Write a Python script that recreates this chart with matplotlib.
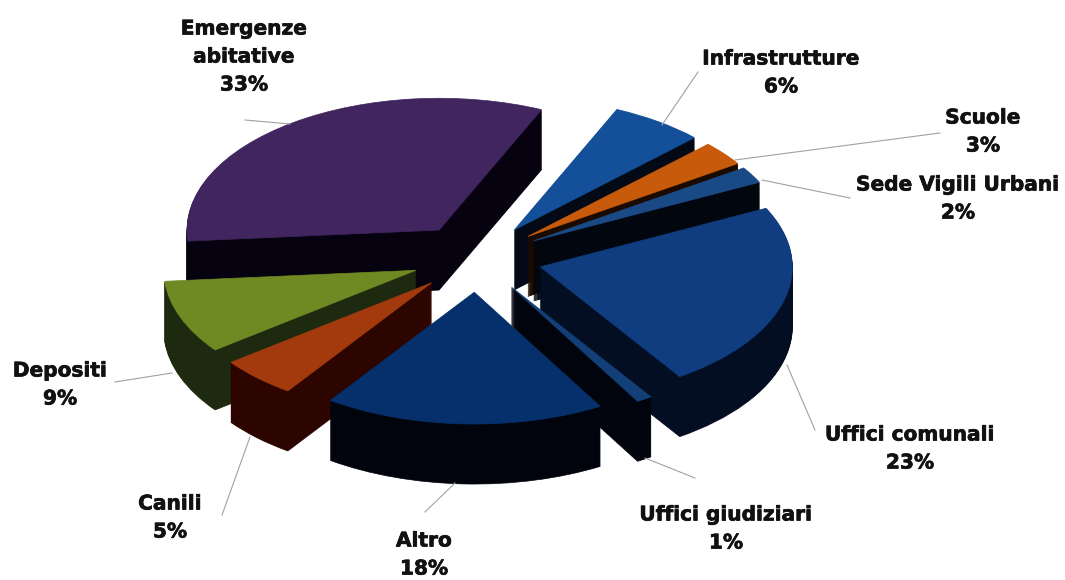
import numpy as np
import matplotlib
matplotlib.use('Agg')
import matplotlib.pyplot as plt
import matplotlib.patheffects as pe
from matplotlib.lines import Line2D

labels = ['Infrastrutture', 'Scuole', 'Sede Vigili Urbani', 'Uffici comunali', 'Uffici giudiziari',
          'Altro', 'Canili', 'Depositi', 'Emergenze\nabitative']
values = [6, 3, 2, 23, 1, 18, 5, 9, 33]
top_colors = ['#14509a', '#c85a0c', '#1a4a86', '#0f3d80', '#123f78', '#06306b', '#a33a0e', '#6f8a22', '#40255f']
side_colors = ['#030a16', '#1a0a02', '#02060f', '#030e22', '#01040c', '#01040c', '#2c0400', '#1d2a10', '#070210']

W, H = 1065, 580
cx, cy = 477, 258
rx = 252
squash = 0.523
depth = 60

# label text (x, y centre in pixels) and leader lines
label_pos = [(781, 73), (983, 132), (958, 199), (910, 449), (726, 529), (424, 555), (170, 518), (60, 385), (244, 57)]
leaders = [[(698, 72), (662, 125)], [(940, 133), (735, 160)], [(850, 198), (762, 180)],
           [(815, 430), (787, 365)], [(695, 478), (645, 458)], [(425, 512), (455, 483)],
           [(222, 515), (250, 437)], [(115, 382), (172, 373)], [(245, 120), (290, 124)]]

fig = plt.figure(figsize=(W / 100, H / 100), dpi=100)
ax = fig.add_axes([0, 0, 1, 1])

mids = []
a = 66
for v in values:
    mids.append(a - v * 3.6 / 2)
    a -= v * 3.6
order = np.argsort(np.argsort(-np.sin(np.radians(mids))))

for layer in range(depth + 1):
    off = (depth - layer) / (rx * squash)
    cols = top_colors if layer == depth else side_colors
    wedges, _ = ax.pie(values, startangle=66, counterclock=False, explode=[0.26] * len(values),
                       radius=1, center=(0, -off), colors=cols)
    for i, w in enumerate(wedges):
        w.set_zorder(order[i] * 100 + layer)
        w.set_edgecolor(cols[i])
        w.set_linewidth(0.5)

ax.set_aspect('auto')
ax.set_xlim(-cx / rx, (W - cx) / rx)
ax.set_ylim(-(H - cy) / (rx * squash), cy / (rx * squash))
ax.axis('off')

for name, v, (x, y) in zip(labels, values, label_pos):
    t = fig.text(x / W, 1 - y / H, f'{name}\n{v}%', ha='center', va='center', fontsize=14.5,
                 fontweight='bold', family='DejaVu Sans', color='#111111', linespacing=1.6)
    t.set_path_effects([pe.withStroke(linewidth=0.5, foreground='#111111')])
for seg in leaders:
    xs = [p[0] / W for p in seg]
    ys = [1 - p[1] / H for p in seg]
    fig.add_artist(Line2D(xs, ys, color='#a0a0a8', lw=0.8))

fig.savefig('out.png', dpi=100)
